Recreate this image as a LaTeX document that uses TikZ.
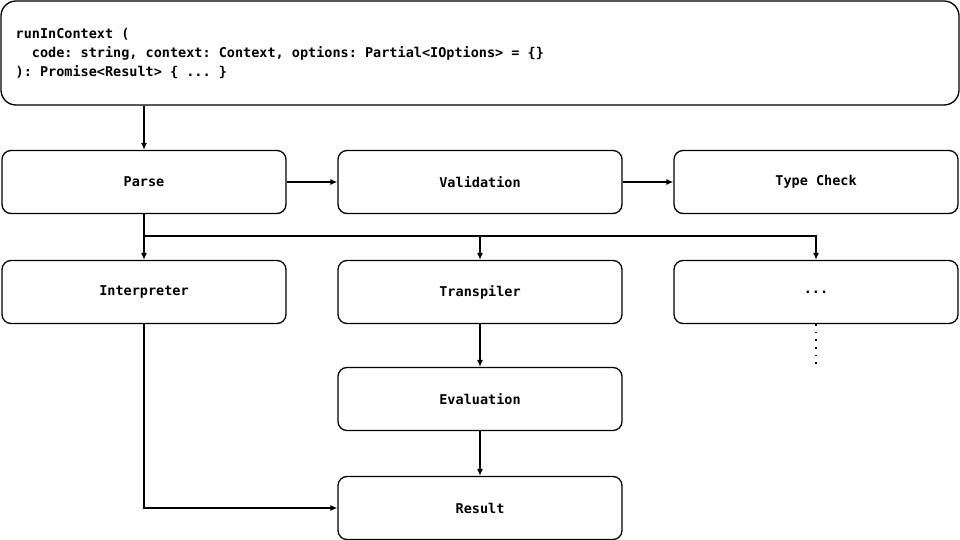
\documentclass[tikz,border=0pt]{standalone}
\usepackage{fontspec}
\setmonofont{DejaVu Sans Mono}
\usetikzlibrary{arrows.meta}
\begin{document}
\begin{tikzpicture}[x=1pt,y=-1pt,line width=1.3pt,
  box/.style={draw,rounded corners=9pt,minimum width=284pt,minimum height=63pt,
    font=\ttfamily\bfseries\fontsize{13.5}{16}\selectfont},
  arr/.style={-{Latex[length=7pt,width=6pt]}}]
\useasboundingbox (0,0) rectangle (960,540);
\node[draw,rounded corners=15pt,minimum width=958pt,minimum height=104pt](sig) at (480,53){};
\node[anchor=north west,align=left,inner sep=0pt,font=\ttfamily\bfseries\fontsize{13.5}{19}\selectfont] (sigtext) at (15,28)
 {runInContext (\\
 \ \ code: string, context: Context, options: Partial<IOptions> = \{\}\\
 ): Promise<Result> \{ ... \}};
\node[box](parse) at (144,182){Parse};
\node[box](valid) at (480,182){Validation};
\node[box](tcheck) at (816,182){Type Check};
\node[box](interp) at (144,292){Interpreter};
\node[box](transp) at (480,292){Transpiler};
\node[box](other) at (816,292){...};
\node[box](evalu) at (480,399){Evaluation};
\node[box](result) at (480,508){Result};
\coordinate (split) at (144,236);
\draw[arr] (sig.south -| parse) -- (parse);
\draw[arr] (parse) -- (valid);
\draw[arr] (valid) -- (tcheck);
\draw (parse) -- (split);
\draw[arr] (split) -- (interp);
\draw[arr] (split) -| (transp);
\draw[arr] (split) -| (other);
\draw[line width=1.6pt,dash pattern=on 1.6pt off 6pt] (other.south) -- ++(0,45);
\draw[arr] (transp) -- (evalu);
\draw[arr] (evalu) -- (result);
\draw[arr] (interp.south) |- (result.west);
\end{tikzpicture}
\end{document}
